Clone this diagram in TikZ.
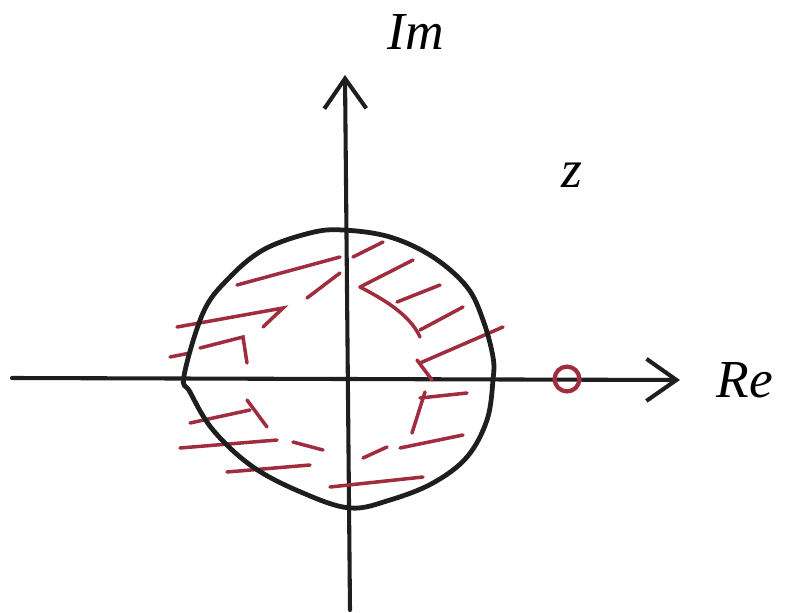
\documentclass[tikz,border=0pt]{standalone}
\usepackage{fontspec}
\setmainfont{Liberation Serif}
\usetikzlibrary{arrows.meta,positioning}
\definecolor{penblack}{RGB}{30,30,30}
\definecolor{hatchred}{RGB}{160,45,62}

\begin{document}
\begin{tikzpicture}[
  x=0.025cm, y=-0.025cm,
  axis/.style={draw=penblack, line width=2.9pt, line cap=round, -{Straight Barb[length=0.75cm, width=1.05cm, line width=2.9pt]}},
  rim/.style={draw=penblack, line width=3.4pt},
  hatch/.style={draw=hatchred, line width=2.5pt, line cap=round},
  lbl/.style={font=\fontsize{38}{42}\selectfont\itshape, inner sep=0pt},
]
\useasboundingbox (0,0) rectangle (785,613);
% axes
\coordinate (reL) at (12,378);
\coordinate (reR) at (680,380);
\coordinate (imB) at (350,610);
\coordinate (imT) at (345,75);
\draw[axis] (reL) -- (reR);
\draw[axis] (imB) -- (imT);
\node[lbl] (im) at (416,32) {Im};
\node[lbl] (re) at (745,380) {Re};
\node[lbl] (z) at (572,175) {z};
% region of convergence
\draw[hatch] (237,285) -- (340,257);
\draw[hatch] (307,298) -- (340,273);
\draw[hatch] (177,327) -- (283,308) -- (263,327);
\draw[hatch] (200,348) -- (243,337) -- (247,363);
\draw[hatch] (170,357) -- (190,353);
\draw[hatch] (353,257) -- (383,242);
\draw[hatch] (360,287) -- (413,260);
\draw[hatch] (360,287) .. controls (385,300) and (410,315) .. (420,337);
\draw[hatch] (397,302) -- (440,285);
\draw[hatch] (420,330) -- (463,307);
\draw[hatch] (420,363) -- (503,327);
\draw[hatch] (417,360) -- (432,380);
\draw[hatch] (420,398) -- (467,393);
\draw[hatch] (425,392) -- (412,433);
\draw[hatch] (363,458) -- (387,447);
\draw[hatch] (400,448) -- (463,435);
\draw[hatch] (330,487) -- (423,477);
\draw[hatch] (190,423) -- (250,410);
\draw[hatch] (247,400) -- (267,427);
\draw[hatch] (180,448) -- (277,440);
\draw[hatch] (293,442) -- (323,450);
\draw[hatch] (227,472) -- (310,465);
% outer circle
\draw[rim] plot[smooth cycle, tension=0.6] coordinates {
  (343,230) (390,237) (433,257) (467,287) (483,320) (493,357)
  (493,380) (487,420) (467,457) (433,483) (390,500) (350,508)
  (303,493) (253,467) (213,430) (190,392) (184,376)
  (203,313) (227,280) (263,250) (310,233)};
% pole mark
\node[draw=hatchred, line width=3pt, circle, minimum size=0.62cm, inner sep=0pt] (pole) at (567,379) {};
\end{tikzpicture}
\end{document}
